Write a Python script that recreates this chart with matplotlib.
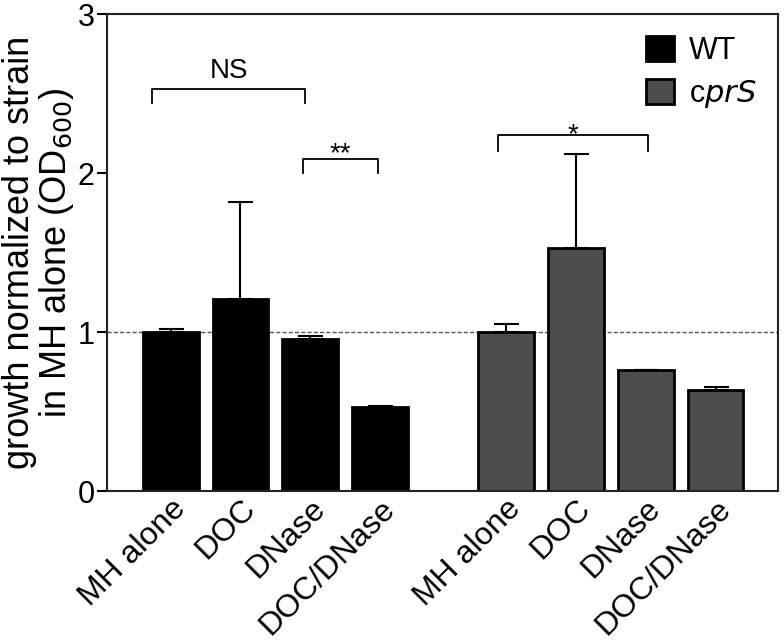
import matplotlib.pyplot as plt
import numpy as np
from matplotlib.patches import Patch

plt.rcParams['font.family'] = ['Liberation Sans', 'DejaVu Sans']

conditions = ['MH alone', 'DOC', 'DNase', 'DOC/DNase']
wt_mean = [1.00, 1.21, 0.955, 0.53]
wt_err = [0.02, 0.61, 0.02, 0.005]
cprs_mean = [1.00, 1.53, 0.76, 0.635]
cprs_err = [0.05, 0.59, 0.005, 0.02]

wt_x = np.arange(4)
cprs_x = np.arange(4) + 4.8

fig = plt.figure(figsize=(7.84, 6.42), dpi=100)
ax = fig.add_axes([0.1365, 0.235, 0.8555, 0.7425])

ax.axhline(1.0, color='#555555', linestyle='--', linewidth=1.0, dashes=(3, 1.5), zorder=0)

bw = 0.8
ax.bar(wt_x, wt_mean, width=bw, color='black', edgecolor='black', linewidth=2, zorder=2)
ax.bar(cprs_x, cprs_mean, width=bw, color='#4d4d4d', edgecolor='black', linewidth=2, zorder=2)
ax.errorbar(wt_x, wt_mean, yerr=[np.zeros(4), wt_err], fmt='none', ecolor='black',
            elinewidth=1.5, capsize=9, capthick=1.5, zorder=1)
ax.errorbar(cprs_x, cprs_mean, yerr=[np.zeros(4), cprs_err], fmt='none', ecolor='black',
            elinewidth=1.5, capsize=9, capthick=1.5, zorder=1)

def bracket(x1, x2, y, h, label, dy=0.03):
    ax.plot([x1, x1, x2, x2], [y - h, y, y, y - h], color='black', linewidth=1.3)
    ax.text((x1 + x2) / 2, y + dy, label, ha='center', va='bottom', fontsize=20)

bracket(wt_x[0] - 0.26, wt_x[2] - 0.07, 2.53, 0.09, 'NS')
bracket(wt_x[2] - 0.11, wt_x[3] - 0.03, 2.09, 0.09, '**', dy=-0.05)
bracket(cprs_x[0] - 0.12, cprs_x[2] + 0.03, 2.24, 0.1, '*', dy=-0.08)

ax.set_xlim(-0.91, 8.69)
ax.set_ylim(0, 3)
ax.set_yticks([0, 1, 2, 3])
ax.tick_params(axis='y', labelsize=22, length=7, width=1.5, pad=2)
ax.set_xticks(np.concatenate([wt_x, cprs_x]))
ax.set_xticklabels(conditions + conditions, rotation=45, ha='right', rotation_mode='anchor',
                   fontsize=23)
ax.tick_params(axis='x', length=0, pad=2)
for s in ax.spines.values():
    s.set_linewidth(1.5)
    s.set_color('#222222')

ax.set_ylabel('growth normalized to strain\nin MH alone (OD$_{600}$)', fontsize=26,
              linespacing=1.0, labelpad=1)

handles = [Patch(facecolor='black', edgecolor='black', linewidth=2),
           Patch(facecolor='#4d4d4d', edgecolor='black', linewidth=2)]
ax.legend(handles, ['WT', 'c$\\mathit{prS}$'], loc='upper right', fontsize=22, frameon=False,
          handlelength=0.9, handleheight=0.9, handletextpad=0.5, labelspacing=0.4,
          borderaxespad=0.3, bbox_to_anchor=(1.0, 1.0))

fig.savefig('out.png', dpi=100)
